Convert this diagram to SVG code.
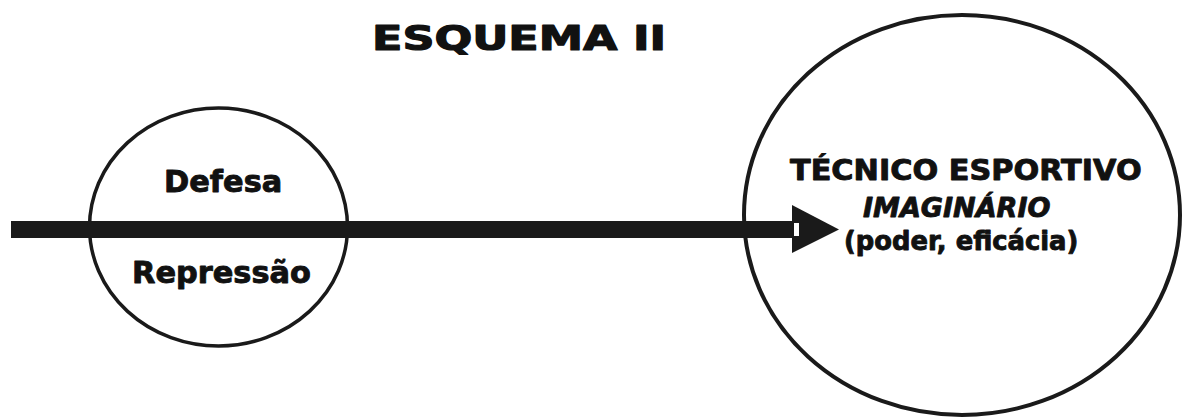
<svg xmlns="http://www.w3.org/2000/svg" width="1183" height="419" viewBox="0 0 1183 419">
<style>
.t{font-family:"DejaVu Sans","Liberation Sans",sans-serif;font-weight:bold;fill:#111;stroke:#111;stroke-width:0.9;stroke-linejoin:round;}
.node{fill:none;stroke:#1a1a1a;}
</style>
<rect width="1183" height="419" fill="#fff"/>
<text class="t" transform="translate(372,49.5) scale(1.29,1)" font-size="34.5" style="stroke-width:1.2">ESQUEMA II</text>
<g id="node-left">
<ellipse class="node" cx="218.5" cy="227" rx="129" ry="119" stroke-width="3.5"/>
<text class="t" transform="translate(164,192) scale(1.02,1)" font-size="29.8">Defesa</text>
<text class="t" transform="translate(132,283) scale(1.02,1)" font-size="29.8">Repressão</text>
</g>
<g id="node-right">
<ellipse class="node" cx="962" cy="215" rx="218" ry="200" stroke-width="4"/>
<text class="t" transform="translate(790,180) scale(1.09,1)" font-size="27.8">TÉCNICO ESPORTIVO</text>
<text class="t" transform="translate(863,217) scale(1.02,1)" font-size="26.5" font-style="italic">IMAGINÁRIO</text>
<text class="t" transform="translate(844,250) scale(1.0,1)" font-size="25.8">(poder, eficácia)</text>
</g>
<g id="connectors">
<rect x="11" y="221" width="782" height="17" fill="#1a1a1a"/>
<polygon points="792,205 839,229.5 792,253" fill="#1a1a1a"/>
<rect x="794" y="223" width="5" height="13" fill="#fff"/>
</g>
</svg>
